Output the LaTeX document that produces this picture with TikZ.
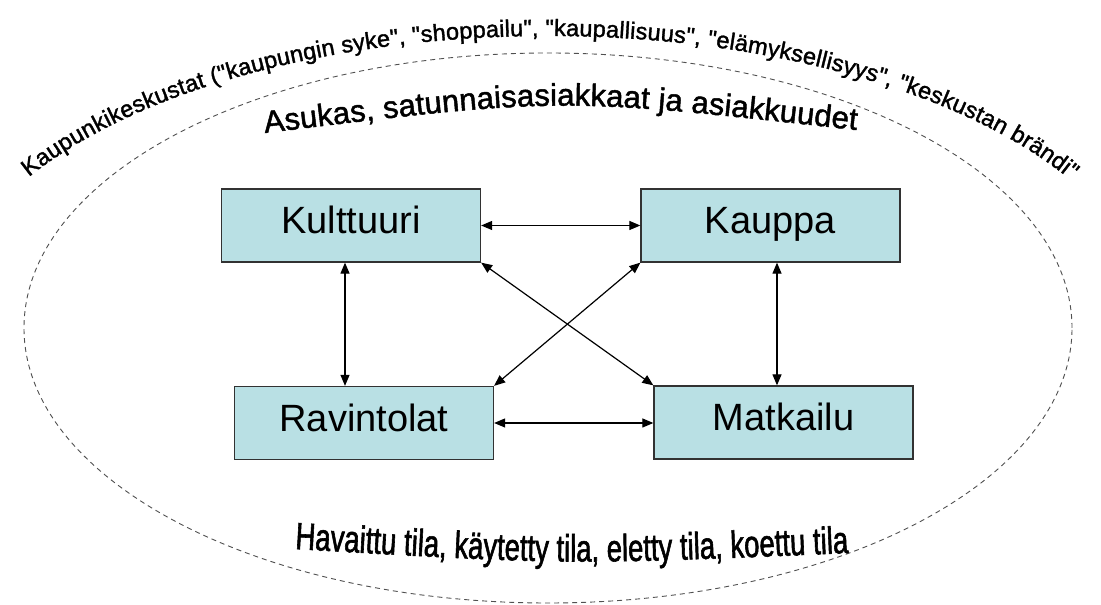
\documentclass[tikz,border=0pt]{standalone}
\usepackage{fontspec}
\setmainfont{Liberation Sans}[Ligatures=TeXOff]
\newfontfamily\wafont{Liberation Sans}[Ligatures=TeXOff, FakeBold=1.5]
\newfontfamily\condfont{Liberation Sans}[Ligatures=TeXOff, FakeStretch=0.72, FakeBold=1.5]
\usetikzlibrary{arrows.meta,decorations.text,calc}
\definecolor{boxfill}{RGB}{185,224,228}
\definecolor{boxline}{RGB}{50,50,50}
\definecolor{ellline}{RGB}{80,80,80}
\newcommand\outerfnt{\wafont\fontsize{23.5pt}{23.5pt}\selectfont}
\newcommand\innerfnt{\wafont\fontsize{31pt}{31pt}\selectfont}
\newcommand\bottomfnt{\condfont\fontsize{38pt}{38pt}\selectfont}
\begin{document}
\begin{tikzpicture}[x=1pt,y=1pt,
  boxnode/.style={draw=boxline, line width=1.3pt, fill=boxfill,
    minimum width=259pt, minimum height=73pt, inner sep=0pt,
    font=\fontsize{38pt}{38pt}\selectfont, text height=28pt, text depth=11pt},
  arr/.style={line width=1.2pt, {Triangle[length=11pt,width=9pt]}-{Triangle[length=11pt,width=9pt]}},
  ell/.style={draw=ellline, line width=0.9pt, dash pattern=on 5pt off 4pt}]
\useasboundingbox (0,0) rectangle (1101,605);
\fill[white] (0,0) rectangle (1101,605);

% dashed ellipse
\draw[ell] (548,277) ellipse [x radius=524, y radius=275];

% boxes
\node[boxnode] (kul) at (351,379.5) {Kulttuuri};
\node[boxnode] (kau) at (770.5,379.5) {Kauppa};
\node[boxnode] (rav) at (364,182) {Ravintolat};
\node[boxnode] (mat) at (783.5,182.5) {Matkailu};

% connectors
\draw[arr] (kul.east) -- (kul.east -| kau.west);
\draw[arr] (rav.east) -- (rav.east -| mat.west);
\draw[arr] ([xshift=-6pt]kul.south) -- ([xshift=-6pt]kul.south |- rav.north);
\draw[arr] ([xshift=6.5pt]kau.south) -- ([xshift=6.5pt]kau.south |- mat.north);
\draw[arr] (kul.south east) -- (mat.north west);
\draw[arr] (kau.south west) -- (rav.north east);

% outer arched text
\path[decorate, decoration={text along path,
  text={|\outerfnt|Kaupunkikeskustat ("kaupungin syke", "shoppailu", "kaupallisuus", "elämyksellisyys", "keskustan brändi"},
  text align=fit to path}]
  (548,279) ++(149.1:605 and 290) arc[start angle=149.1, end angle=30.4, x radius=605, y radius=290];

% inner arched text
\path[decorate, decoration={text along path,
  text={|\innerfnt|Asukas, satunnaisasiakkaat ja asiakkuudet},
  text align=fit to path}]
  (265,472) .. controls (560,508) .. (856,475);

% bottom text
\path[decorate, decoration={text along path,
  text={|\bottomfnt|Havaittu tila, käytetty tila, eletty tila, koettu tila},
  text align=fit to path}]
  (295,56) .. controls (570,40) .. (848,52);
\end{tikzpicture}
\end{document}
